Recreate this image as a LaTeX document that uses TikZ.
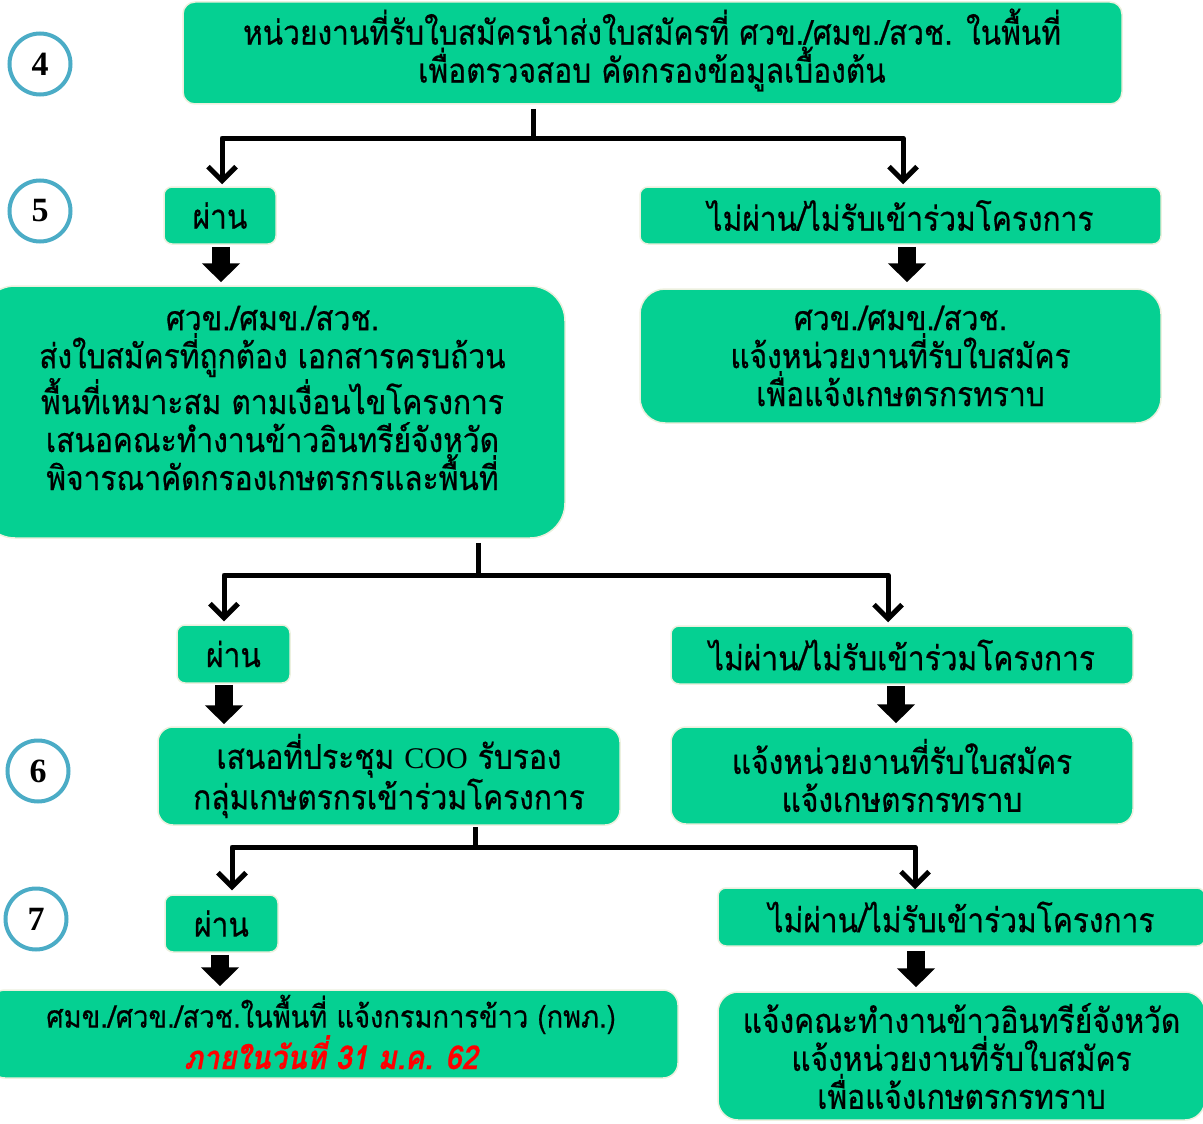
\documentclass[tikz,border=0pt]{standalone}
\usepackage{fontspec}
\setmainfont[Script=Thai, FakeStretch=0.88, FakeBold=0.5]{Loma}
\newfontfamily\latinserif{Liberation Serif}
\usetikzlibrary{arrows.meta,calc}
\definecolor{boxgreen}{RGB}{5,208,146}
\definecolor{boxedge}{RGB}{236,240,222}
\definecolor{circblue}{RGB}{75,172,198}
\definecolor{datered}{RGB}{255,0,0}
\tikzset{
  box/.style={draw=boxedge, line width=1.5pt, fill=boxgreen, rounded corners=12pt,
    align=center, inner sep=0pt, text=black, font=\fontsize{34}{38}\selectfont},
  txt/.style={align=center, inner sep=0pt, text=black, font=\fontsize{34}{38}\selectfont},
  stepcirc/.style={circle, draw=circblue, line width=4pt, minimum size=61pt, inner sep=0pt,
    font=\latinserif\bfseries\fontsize{34}{34}\selectfont},
  conn/.style={line width=5pt, line join=round},
  arr/.style={conn, -{Straight Barb[length=14pt,width=28pt]}},
  bar/.style={line width=18pt, -{Triangle[length=19pt,width=37pt]}}
}
\begin{document}
\begin{tikzpicture}[x=1pt,y=-1pt]
\useasboundingbox (0,0) rectangle (1203,1124);

% step circles
\node[stepcirc] (c4) at (40,64) {4};
\node[stepcirc] (c5) at (40,211) {5};
\node[stepcirc] (c6) at (38,771) {6};
\node[stepcirc] (c7) at (36,919) {7};

% boxes
\node[box, minimum width=939pt, minimum height=102pt] (b4) at (652.5,53) {};
\node[txt] (b4t) at (652,50)
  {หน่วยงานที่รับใบสมัครนำส่งใบสมัครที่ ศวข./ศมข./สวช. ในพื้นที่\\เพื่อตรวจสอบ คัดกรองข้อมูลเบื้องต้น};
\node[box, rounded corners=8pt, minimum width=112pt, minimum height=57pt] (p1) at (220,215.5) {ผ่าน};
\node[box, rounded corners=8pt, minimum width=521pt, minimum height=57pt] (f1) at (900.5,215.5) {ไม่ผ่าน/ไม่รับเข้าร่วมโครงการ};
\node[box, rounded corners=35pt, minimum width=585pt, minimum height=252pt] (big) at (272.5,412) {};
\node[txt] (bigt) at (272.5,398)
  {ศวข./ศมข./สวช.\\ส่งใบสมัครที่ถูกต้อง เอกสารครบถ้วน\\พื้นที่เหมาะสม ตามเงื่อนไขโครงการ\\เสนอคณะทำงานข้าวอินทรีย์จังหวัด\\พิจารณาคัดกรองเกษตรกรและพื้นที่};
\node[box, rounded corners=25pt, minimum width=521pt, minimum height=134pt] (r1) at (900.5,356)
  {ศวข./ศมข./สวช.\\แจ้งหน่วยงานที่รับใบสมัคร\\เพื่อแจ้งเกษตรกรทราบ};

\node[box, rounded corners=8pt, minimum width=113pt, minimum height=58pt] (p2) at (233.5,654) {ผ่าน};
\node[box, rounded corners=8pt, minimum width=462pt, minimum height=58pt] (f2) at (902,655) {ไม่ผ่าน/ไม่รับเข้าร่วมโครงการ};
\node[box, rounded corners=15pt, minimum width=462pt, minimum height=98pt] (s6) at (389,776)
  {เสนอที่ประชุม {\latinserif\fontsize{30}{38}\selectfont COO} รับรอง\\กลุ่มเกษตรกรเข้าร่วมโครงการ};
\node[box, rounded corners=15pt, minimum width=462pt, minimum height=97pt] (r2) at (902,775.5)
  {แจ้งหน่วยงานที่รับใบสมัคร\\แจ้งเกษตรกรทราบ};

\node[box, rounded corners=8pt, minimum width=113pt, minimum height=57pt] (p3) at (221.5,923.5) {ผ่าน};
\node[box, rounded corners=8pt, minimum width=487pt, minimum height=58pt] (f3) at (961.5,917) {ไม่ผ่าน/ไม่รับเข้าร่วมโครงการ};
\node[box, rounded corners=15pt, minimum width=688pt, minimum height=88pt] (bl) at (334,1034) {};
\node[txt, font=\fontsize{31}{33}\selectfont] (blt) at (331,1032)
  {ศมข./ศวข./สวช.ในพื้นที่ แจ้งกรมการข้าว (กพภ.)\\{\color{datered}\bfseries\itshape\fontsize{33}{33}\selectfont ภายในวันที่ 31 ม.ค. 62}};
\node[box, rounded corners=20pt, minimum width=487pt, minimum height=128pt] (br) at (961.5,1056)
  {แจ้งคณะทำงานข้าวอินทรีย์จังหวัด\\แจ้งหน่วยงานที่รับใบสมัคร\\เพื่อแจ้งเกษตรกรทราบ};

% branching connectors
\coordinate (j1) at (533,138);
\draw[conn] ($(b4.south -| j1)+(0,4)$) -- (j1);
\draw[arr] (j1) -| ($(p1.north)+(2,-2)$);
\draw[arr] (j1) -| ($(f1.north)+(2.5,-2)$);

\coordinate (j2) at (478,575);
\draw[conn] ($(big.south -| j2)+(0,4)$) -- (j2);
\draw[arr] (j2) -| ($(p2.north)+(-9.5,-3)$);
\draw[arr] (j2) -| ($(f2.north)+(-14,-3)$);

\coordinate (j3) at (475,847);
\draw[conn] ($(s6.south -| j3)+(0,1)$) -- (j3);
\draw[arr] (j3) -| ($(p3.north)+(10.5,-4)$);
\draw[arr] (j3) -| ($(f3.north)+(-46.5,2)$);

% block arrows
\draw[bar] ($(p1.south)+(1,2)$) -- ($(p1.south |- big.north)+(1,-3)$);
\draw[bar] ($(f1.south)+(6.5,2)$) -- ($(f1.south |- r1.north)+(6.5,-6)$);
\draw[bar] ($(p2.south)+(-9.5,1)$) -- ($(p2.south |- s6.north)+(-9.5,-2)$);
\draw[bar] ($(f2.south)+(-6,1)$) -- ($(f2.south |- r2.north)+(-6,-3)$);
\draw[bar] ($(p3.south)+(-1.5,2)$) -- ($(p3.south |- bl.north)+(-1.5,-3)$);
\draw[bar] ($(f3.south)+(-45.5,4)$) -- ($(f3.south |- br.north)+(-45.5,-4)$);
\end{tikzpicture}
\end{document}
